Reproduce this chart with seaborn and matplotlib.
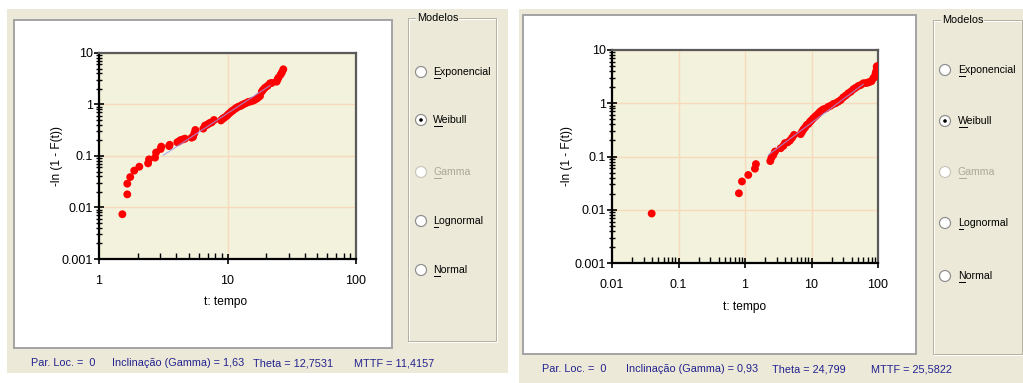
import numpy as np
import pandas as pd
import seaborn as sns
import matplotlib
matplotlib.use("Agg")
import matplotlib.pyplot as plt
from matplotlib.patches import Rectangle, Circle
from matplotlib.ticker import LogLocator, NullFormatter

# ---------------------------------------------------------------- data
# Weibull probability plot, first sample: time vs cumulative hazard
left_t = [1.52, 1.66, 1.66, 1.75, 1.88, 2.06, 2.41, 2.45, 2.73, 2.78, 3.02, 3.05,
          3.51, 3.55, 4.07, 4.20, 4.32, 4.50, 4.67, 5.26, 5.40, 5.52, 5.62, 6.48,
          6.68, 6.90, 7.10, 7.30, 7.53, 7.85, 8.90, 9.10, 9.27, 9.50, 9.86, 10.1,
          10.45, 10.8, 11.1, 11.5, 11.8, 12.2, 12.7, 13.0, 13.4, 13.9, 14.5, 15.0,
          15.6, 16.2, 16.9, 17.4, 17.9, 18.5, 19.0, 19.6, 20.5, 21.4, 22.1, 24.1,
          24.5, 24.9, 25.9, 26.5, 27.2]
left_h = [0.0074, 0.018, 0.029, 0.039, 0.052, 0.062, 0.072, 0.086, 0.093, 0.117, 0.137, 0.152,
          0.156, 0.165, 0.185, 0.193, 0.204, 0.210, 0.217, 0.227, 0.235, 0.275, 0.32, 0.34,
          0.39, 0.40, 0.42, 0.44, 0.45, 0.50, 0.49, 0.52, 0.54, 0.56, 0.60, 0.64,
          0.69, 0.74, 0.78, 0.83, 0.87, 0.91, 0.94, 0.98, 1.02, 1.06, 1.12, 1.14,
          1.17, 1.22, 1.30, 1.38, 1.46, 1.78, 1.95, 2.12, 2.30, 2.57, 2.62, 2.77,
          3.05, 3.31, 3.80, 4.20, 4.82]

# second sample
right_t = [0.0395, 0.81, 0.90, 1.12, 1.41, 1.46, 2.40, 2.50, 2.67, 2.83, 3.44, 3.77,
           3.98, 4.40, 4.75, 5.09, 5.46, 6.87, 7.20, 7.53, 8.00, 8.47, 9.00, 9.50,
           10.0, 10.6, 11.3, 12.0, 12.7, 13.4, 14.2, 15.1, 16.5, 17.9, 19.5, 21.3,
           23.0, 25.2, 27.5, 30.0, 32.8, 35.7, 39.0, 42.5, 46.0, 50.6, 55.0, 60.0,
           66.0, 71.0, 75.9, 80.0, 85.0, 88.0, 92.0, 94.0, 95.5, 97.0, 98.0]
right_h = [0.0085, 0.0204, 0.034, 0.045, 0.059, 0.072, 0.082, 0.095, 0.107, 0.124, 0.143, 0.158,
           0.178, 0.185, 0.200, 0.224, 0.254, 0.263, 0.290, 0.320, 0.350, 0.390, 0.410, 0.450,
           0.480, 0.520, 0.560, 0.600, 0.640, 0.690, 0.730, 0.770, 0.800, 0.860, 0.900, 0.970,
           1.000, 1.070, 1.150, 1.290, 1.400, 1.540, 1.650, 1.830, 1.950, 2.110, 2.200, 2.370,
           2.400, 2.450, 2.540, 2.600, 2.940, 3.100, 3.640, 4.000, 4.850, 4.400, 5.000]

# fitted Weibull parameters shown in the status bar
left_par = {"loc": 0, "gamma": 1.63, "theta": 12.7531, "mttf": 11.4157}
right_par = {"loc": 0, "gamma": 0.93, "theta": 24.799, "mttf": 25.5822}
left_fit_range = [3.17, 21.4]
right_fit_range = [2.24, 60.0]

left_xticks = [1, 10, 100]
right_xticks = [0.01, 0.1, 1, 10, 100]
y_ticks = [0.001, 0.01, 0.1, 1, 10]
y_ticklabels = ["0.001", "0.01", "0.1", "1", "10"]

models = ["Exponencial", "Weibull", "Gamma", "Lognormal", "Normal"]
selected_model = "Weibull"
disabled_model = "Gamma"

# ---------------------------------------------------------------- style
W, H = 1023, 383
BEIGE = "#ECE9D8"
PLOT_BG = "#F3F2DC"
GRID = "#F7D9BB"
NAVY = "#22228F"
FONT = ["Liberation Sans", "DejaVu Sans"]
plt.rcParams["font.family"] = FONT

fig = plt.figure(figsize=(W / 100, H / 100), dpi=100, facecolor="white")

# window chrome drawn in pixel coordinates
bg = fig.add_axes([0, 0, 1, 1], zorder=0)
bg.set_xlim(0, W)
bg.set_ylim(H, 0)
bg.axis("off")


def px(v):
    return v * 72 / 100.0


def window(x0, y0, x1, y1, panel, gbox, status_y, status_x, par, radio, title_y):
    bg.add_patch(Rectangle((x0, y0), x1 - x0, y1 - y0, facecolor=BEIGE, edgecolor="none"))
    px0, py0, px1, py1 = panel
    bg.add_patch(Rectangle((px0, py0), px1 - px0, py1 - py0, facecolor="white",
                           edgecolor="#A5A5A5", lw=px(2)))
    gx0, gy0, gx1, gy1 = gbox
    bg.add_patch(Rectangle((gx0 + 1, gy0 + 1), gx1 - gx0, gy1 - gy0, facecolor="none",
                           edgecolor="white", lw=px(1)))
    bg.add_patch(Rectangle((gx0, gy0), gx1 - gx0, gy1 - gy0, facecolor="none",
                           edgecolor="#B5B2A2", lw=px(1)))
    bg.text(gx0 + 9, title_y, "Modelos", fontsize=7.8, color="black", va="center", ha="left",
            bbox=dict(facecolor=BEIGE, edgecolor="none", pad=0.6))

    def fmt(v):
        return str(v).replace(".", ",")

    items = [f"Par. Loc. =  {par['loc']}",
             f"Inclinação (Gamma) = {fmt(par['gamma'])}",
             f"Theta = {fmt(par['theta'])}",
             f"MTTF = {fmt(par['mttf'])}"]
    for sx, s in zip(status_x, items):
        bg.text(sx, status_y, s, fontsize=7.8, color=NAVY, va="center", ha="left")

    cx, lx, rows = radio
    renderer = fig.canvas.get_renderer()
    for name, ry in zip(models, rows):
        off = name == disabled_model
        bg.add_patch(Circle((cx, ry), 5.5, facecolor="white",
                            edgecolor="#C8C6BA" if off else "#8E8E8E", lw=px(1.2)))
        if name == selected_model:
            bg.add_patch(Circle((cx, ry), 1.8, facecolor="black", edgecolor="none"))
        col = "#ACA899" if off else "black"
        bg.text(lx, ry, name, fontsize=7.6, color=col, va="center", ha="left")
        first = bg.text(lx, ry, name[0], fontsize=7.6, color="none", va="center", ha="left")
        ext = first.get_window_extent(renderer)
        first.remove()
        uy = ry + 5.5
        bg.plot([ext.x0 + 0.5, ext.x1 - 0.5], [uy, uy], color=col, lw=px(1))


window(7, 9, 508, 373, (14, 20, 392, 348), (408, 18, 496, 341), 363,
       [31, 112, 253, 354], left_par, (421, 433, [72, 120, 172, 221, 270]), 18)
window(519, 9, W, H, (523, 15, 916, 354), (933, 20, 1022, 354), 369,
       [542, 626, 772, 871], right_par, (945, 958, [70, 121, 172, 223, 276]), 20)


def prob_plot(rect, t, h, par, fit_range, xticks, xlim, xlab_coords, ylab_coords):
    ax = fig.add_axes(rect, zorder=2)
    ax.set_facecolor(PLOT_BG)
    ax.set(xscale="log", yscale="log")
    data = pd.DataFrame({"t": t, "h": h})
    sns.scatterplot(data=data, x="t", y="h", ax=ax, color="#FF0000", s=32,
                    edgecolor="none", linewidth=0, zorder=3, legend=False)
    tt = np.geomspace(fit_range[0], fit_range[1], 50)
    fit = pd.DataFrame({"t": tt, "h": (tt / par["theta"]) ** par["gamma"]})
    sns.lineplot(data=fit, x="t", y="h", ax=ax, color="#9A9AF0", lw=0.8, alpha=0.8,
                 zorder=4)
    ax.set_xlim(*xlim)
    ax.set_ylim(0.001, 10)
    ax.set_xticks(xticks)
    ax.set_xticklabels([f"{v:g}" for v in xticks])
    ax.set_yticks(y_ticks)
    ax.set_yticklabels(y_ticklabels)
    ax.xaxis.set_minor_locator(LogLocator(base=10, subs=np.arange(2, 10), numticks=20))
    ax.yaxis.set_minor_locator(LogLocator(base=10, subs=np.arange(2, 10), numticks=20))
    ax.xaxis.set_minor_formatter(NullFormatter())
    ax.yaxis.set_minor_formatter(NullFormatter())
    ax.tick_params(axis="y", which="major", direction="inout", length=7, width=1.2,
                   pad=1, labelsize=9)
    ax.tick_params(axis="y", which="minor", direction="inout", length=4, width=1)
    ax.tick_params(axis="x", which="major", direction="inout", length=7, width=1.2,
                   pad=8, labelsize=9)
    ax.tick_params(axis="x", which="minor", direction="in", length=4, width=1)
    ax.grid(True, which="major", color=GRID, lw=1)
    ax.grid(False, which="minor")
    ax.set_axisbelow(True)
    for side in ("left", "bottom"):
        ax.spines[side].set_color("black")
        ax.spines[side].set_linewidth(1.6)
    for side in ("top", "right"):
        ax.spines[side].set_color("#5A5A5A")
        ax.spines[side].set_linewidth(1.6)
    ax.set_xlabel("t: tempo", fontsize=8.6)
    ax.set_ylabel("-ln (1 - F(t))", fontsize=8.6)
    ax.xaxis.set_label_coords(*xlab_coords)
    ax.yaxis.set_label_coords(*ylab_coords)
    ax.yaxis.label.set_va("center")
    ax.xaxis.label.set_va("center")
    return ax


prob_plot([99 / W, (H - 259) / H, 257 / W, 206 / H], left_t, left_h, left_par,
          left_fit_range, left_xticks, (1, 100), (0.494, -0.209), (-0.163, 0.5))
prob_plot([612 / W, (H - 263) / H, 266 / W, 213 / H], right_t, right_h, right_par,
          right_fit_range, right_xticks, (0.01, 100), (0.5, -0.207), (-0.169, 0.502))

fig.savefig("out.png", dpi=100, facecolor="white")
